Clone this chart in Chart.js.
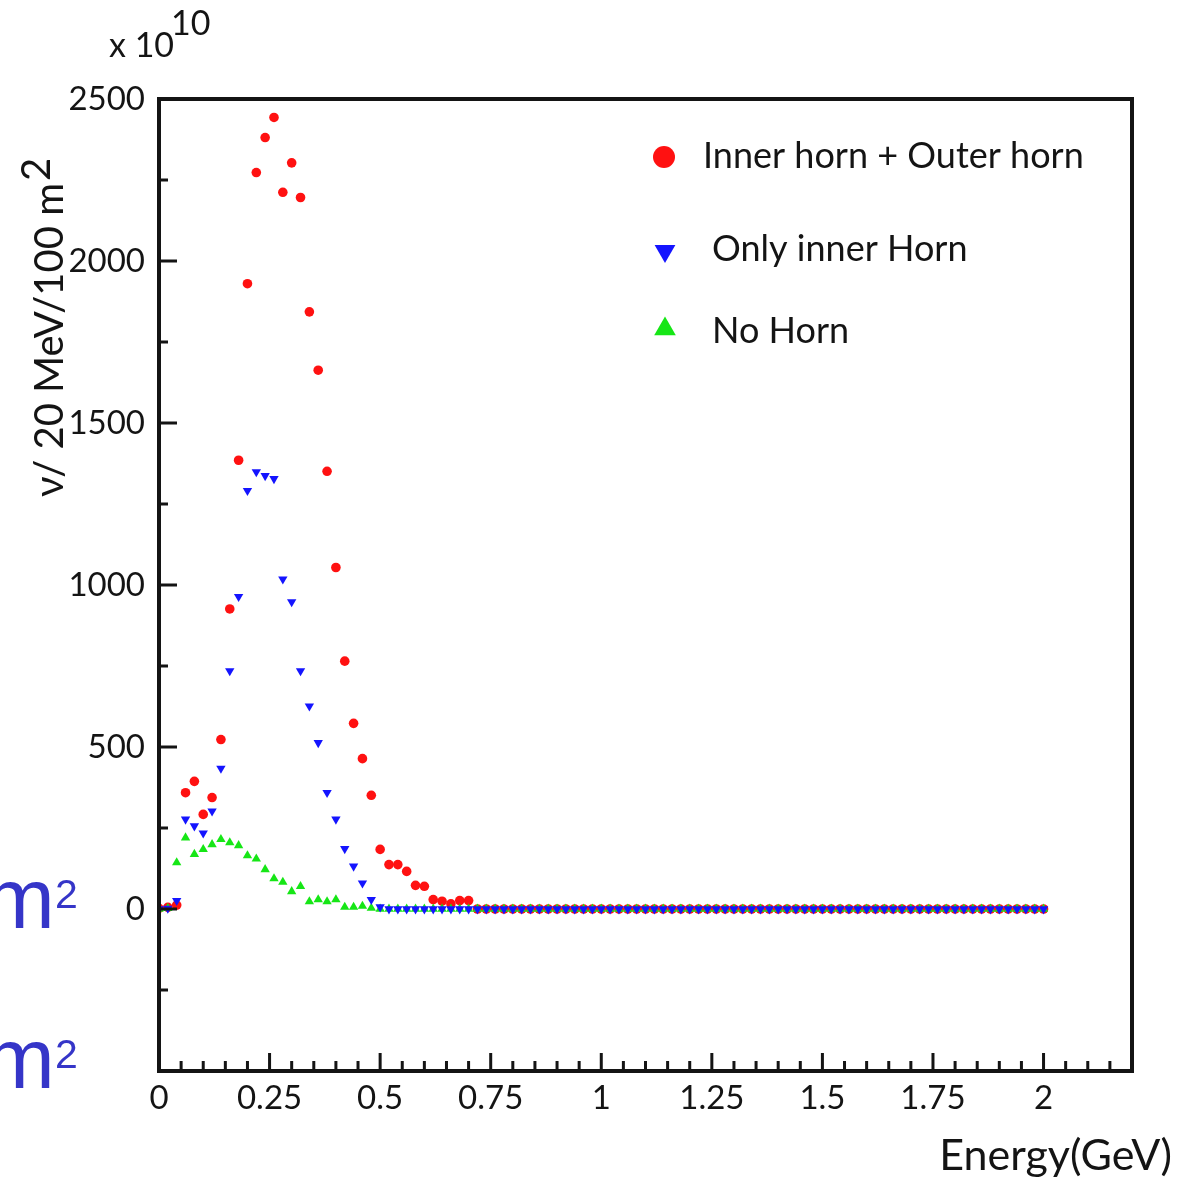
<!DOCTYPE html>
<html>
<head>
<meta charset="utf-8">
<script src="https://cdn.jsdelivr.net/npm/chart.js@4.4.0/dist/chart.umd.min.js"></script>
<style>
  html, body { margin: 0; padding: 0; background: #fff; }
  #box { width: 1191px; height: 1181px; }
</style>
</head>
<body>
<div id="box"><canvas id="grafico" width="1191" height="1181"></canvas></div>
<script>
// energia de cada bin (GeV), bins de 20 MeV
const energia = [
  0, 0.02, 0.04, 0.06, 0.08, 0.1, 0.12, 0.14, 0.16, 0.18,
  0.2, 0.22, 0.24, 0.26, 0.28, 0.3, 0.32, 0.34, 0.36, 0.38,
  0.4, 0.42, 0.44, 0.46, 0.48, 0.5, 0.52, 0.54, 0.56, 0.58,
  0.6, 0.62, 0.64, 0.66, 0.68, 0.7, 0.72, 0.74, 0.76, 0.78,
  0.8, 0.82, 0.84, 0.86, 0.88, 0.9, 0.92, 0.94, 0.96, 0.98,
  1, 1.02, 1.04, 1.06, 1.08, 1.1, 1.12, 1.14, 1.16, 1.18,
  1.2, 1.22, 1.24, 1.26, 1.28, 1.3, 1.32, 1.34, 1.36, 1.38,
  1.4, 1.42, 1.44, 1.46, 1.48, 1.5, 1.52, 1.54, 1.56, 1.58,
  1.6, 1.62, 1.64, 1.66, 1.68, 1.7, 1.72, 1.74, 1.76, 1.78,
  1.8, 1.82, 1.84, 1.86, 1.88, 1.9, 1.92, 1.94, 1.96, 1.98,
  2
];

// Inner horn + Outer horn (x 10^10)
const doisHorns = [
  2, 5, 12, 359, 394, 292, 344, 523, 926, 1385,
  1930, 2273, 2381, 2443, 2212, 2303, 2196, 1843, 1663, 1351,
  1054, 765, 573, 464, 351, 184, 137, 137, 116, 73,
  70, 29, 24, 16, 26, 26, 0, 0, 0, 0,
  0, 0, 0, 0, 0, 0, 0, 0, 0, 0,
  0, 0, 0, 0, 0, 0, 0, 0, 0, 0,
  0, 0, 0, 0, 0, 0, 0, 0, 0, 0,
  0, 0, 0, 0, 0, 0, 0, 0, 0, 0,
  0, 0, 0, 0, 0, 0, 0, 0, 0, 0,
  0, 0, 0, 0, 0, 0, 0, 0, 0, 0,
  0
];

// Only inner Horn
const soInner = [
  0, 2, 26, 277, 256, 234, 302, 434, 735, 964,
  1291, 1349, 1337, 1328, 1018, 948, 735, 626, 513, 359,
  277, 186, 132, 80, 29, 6, 0, 0, 0, 0,
  0, 0, 0, 0, 0, 0, 0, 0, 0, 0,
  0, 0, 0, 0, 0, 0, 0, 0, 0, 0,
  0, 0, 0, 0, 0, 0, 0, 0, 0, 0,
  0, 0, 0, 0, 0, 0, 0, 0, 0, 0,
  0, 0, 0, 0, 0, 0, 0, 0, 0, 0,
  0, 0, 0, 0, 0, 0, 0, 0, 0, 0,
  0, 0, 0, 0, 0, 0, 0, 0, 0, 0,
  0
];

// No Horn
const semHorn = [
  0, 2, 143, 220, 169, 184, 199, 215, 205, 196,
  165, 155, 122, 94, 83, 54, 70, 23, 29, 23,
  29, 6, 6, 9, 3, 0, 0, 0, 0, 0,
  0, 0, 0, 0, 0, 0, 0, 0, 0, 0,
  0, 0, 0, 0, 0, 0, 0, 0, 0, 0,
  0, 0, 0, 0, 0, 0, 0, 0, 0, 0,
  0, 0, 0, 0, 0, 0, 0, 0, 0, 0,
  0, 0, 0, 0, 0, 0, 0, 0, 0, 0,
  0, 0, 0, 0, 0, 0, 0, 0, 0, 0,
  0, 0, 0, 0, 0, 0, 0, 0, 0, 0,
  0
];

const xTickValores = [0, 0.25, 0.5, 0.75, 1, 1.25, 1.5, 1.75, 2];
const xTickRotulos = ['0', '0.25', '0.5', '0.75', '1', '1.25', '1.5', '1.75', '2'];
const yTickValores = [0, 500, 1000, 1500, 2000, 2500];
const yTickRotulos = ['0', '500', '1000', '1500', '2000', '2500'];

const nomesSeries = ['Inner horn + Outer horn', 'Only inner Horn', 'No Horn'];

const fonte = 'Lato, "Open Sans", sans-serif';
const preto = '#141414';

function montarPontos(valores) {
    let pontos = [];
    for (let i = 0; i < energia.length; i++) {
        pontos.push({ x: energia[i], y: valores[i] });
    }
    return pontos;
}

function rotuloDe(valor, valores, rotulos) {
    for (let i = 0; i < valores.length; i++) {
        if (Math.abs(valores[i] - valor) < 1e-6) return rotulos[i];
    }
    return '';
}

function ehMaior(valor, passo) {
    return Math.abs(valor / passo - Math.round(valor / passo)) < 1e-6;
}

// ticks para dentro, moldura, titulos e legenda
const desenhoExtra = {
    id: 'desenhoExtra',
    afterDraw(chart) {
        const ctx = chart.ctx;
        const area = chart.chartArea;
        const sx = chart.scales.x;
        const sy = chart.scales.y;

        ctx.save();
        ctx.strokeStyle = preto;
        ctx.lineWidth = 3;
        ctx.beginPath();
        sx.ticks.forEach((t) => {
            const px = sx.getPixelForValue(t.value);
            const len = ehMaior(t.value, 0.25) ? 18 : 10;
            ctx.moveTo(px, area.bottom);
            ctx.lineTo(px, area.bottom - len);
        });
        sy.ticks.forEach((t) => {
            const py = sy.getPixelForValue(t.value);
            const len = ehMaior(t.value, 500) ? 18 : 9;
            ctx.moveTo(area.left, py);
            ctx.lineTo(area.left + len, py);
        });
        ctx.stroke();

        ctx.lineWidth = 4;
        ctx.strokeRect(area.left, area.top, area.right - area.left, area.bottom - area.top);

        ctx.fillStyle = preto;
        ctx.textBaseline = 'alphabetic';

        // x 10^10
        ctx.font = '34px ' + fonte;
        ctx.textAlign = 'left';
        ctx.fillText('x 10', 109, 57);
        ctx.fillText('10', 171, 35);

        // titulo do eixo x
        ctx.font = '43px ' + fonte;
        ctx.textAlign = 'right';
        ctx.fillText('Energy(GeV)', 1172, 1170);

        // titulo do eixo y (rotacionado)
        ctx.save();
        ctx.translate(63, 497);
        ctx.rotate(-Math.PI / 2);
        ctx.textAlign = 'left';
        ctx.font = '40px ' + fonte;
        const base = 'ν/ 20 MeV/100 m';
        ctx.fillText(base, 0, 0);
        const w = ctx.measureText(base).width;
        ctx.fillText('2', w + 2, -13);
        ctx.restore();

        // legenda
        const posLegenda = [
            { mx: 664, my: 157, tx: 703, ty: 168 },
            { mx: 665, my: 251, tx: 712, ty: 261 },
            { mx: 665, my: 329, tx: 712, ty: 343 }
        ];
        const marcas = [
            { pointStyle: 'circle', radius: 11, rotation: 0, borderWidth: 0 },
            { pointStyle: 'triangle', radius: 12, rotation: 180, borderWidth: 0 },
            { pointStyle: 'triangle', radius: 12.5, rotation: 0, borderWidth: 0 }
        ];
        const cores = ['#ff1111', '#1414ff', '#16e616'];
        ctx.font = '36px ' + fonte;
        ctx.textAlign = 'left';
        for (let i = 0; i < nomesSeries.length; i++) {
            const p = posLegenda[i];
            ctx.fillStyle = cores[i];
            Chart.helpers.drawPoint(ctx, marcas[i], p.mx, p.my);
            ctx.fillStyle = preto;
            ctx.fillText(nomesSeries[i], p.tx, p.ty);
        }

        // restos azuis na margem esquerda (m com expoente 2)
        ctx.fillStyle = '#3535c8';
        ctx.font = '85px "Liberation Sans", Arial, sans-serif';
        ctx.fillText('m', -16, 928);
        ctx.fillText('m', -16, 1088);
        ctx.font = '41px "Liberation Sans", Arial, sans-serif';
        ctx.fillText('2', 55, 908);
        ctx.fillText('2', 55, 1068);

        ctx.restore();
    }
};

// vermelho por baixo, verde no meio, azul por cima
const dados = {
    datasets: [
        {
            label: nomesSeries[0],
            data: montarPontos(doisHorns),
            pointStyle: 'circle',
            pointRadius: 4.8,
            pointBorderWidth: 0,
            backgroundColor: '#ff1111',
            order: 3
        },
        {
            label: nomesSeries[2],
            data: montarPontos(semHorn),
            pointStyle: 'triangle',
            pointRadius: 5.4,
            pointBorderWidth: 0,
            backgroundColor: '#16e616',
            order: 2
        },
        {
            label: nomesSeries[1],
            data: montarPontos(soInner),
            pointStyle: 'triangle',
            pointRotation: 180,
            pointRadius: 5.4,
            pointBorderWidth: 0,
            backgroundColor: '#1414ff',
            order: 1
        }
    ]
};

const config = {
    type: 'scatter',
    data: dados,
    options: {
        responsive: false,
        animation: false,
        devicePixelRatio: 1,
        layout: { padding: { top: 99, right: 59, left: 0, bottom: 0 } },
        plugins: {
            legend: { display: false },
            tooltip: { enabled: false }
        },
        scales: {
            x: {
                type: 'linear',
                min: 0,
                max: 2.2,
                afterFit: (s) => { s.height = 110; },
                grid: { drawOnChartArea: false, drawTicks: false },
                border: { display: false },
                ticks: {
                    stepSize: 0.05,
                    maxTicksLimit: 200,
                    autoSkip: false,
                    maxRotation: 0,
                    padding: 8,
                    color: preto,
                    font: { family: fonte, size: 33 },
                    callback: (v) => rotuloDe(v, xTickValores, xTickRotulos)
                }
            },
            y: {
                min: -500,
                max: 2500,
                afterFit: (s) => { s.width = 159; },
                grid: { drawOnChartArea: false, drawTicks: false },
                border: { display: false },
                ticks: {
                    stepSize: 250,
                    maxTicksLimit: 200,
                    autoSkip: false,
                    padding: 14,
                    color: preto,
                    font: { family: fonte, size: 33 },
                    callback: (v) => rotuloDe(v, yTickValores, yTickRotulos)
                }
            }
        }
    },
    plugins: [desenhoExtra]
};

let meuGrafico = new Chart(document.getElementById('grafico'), config);
</script>
</body>
</html>
